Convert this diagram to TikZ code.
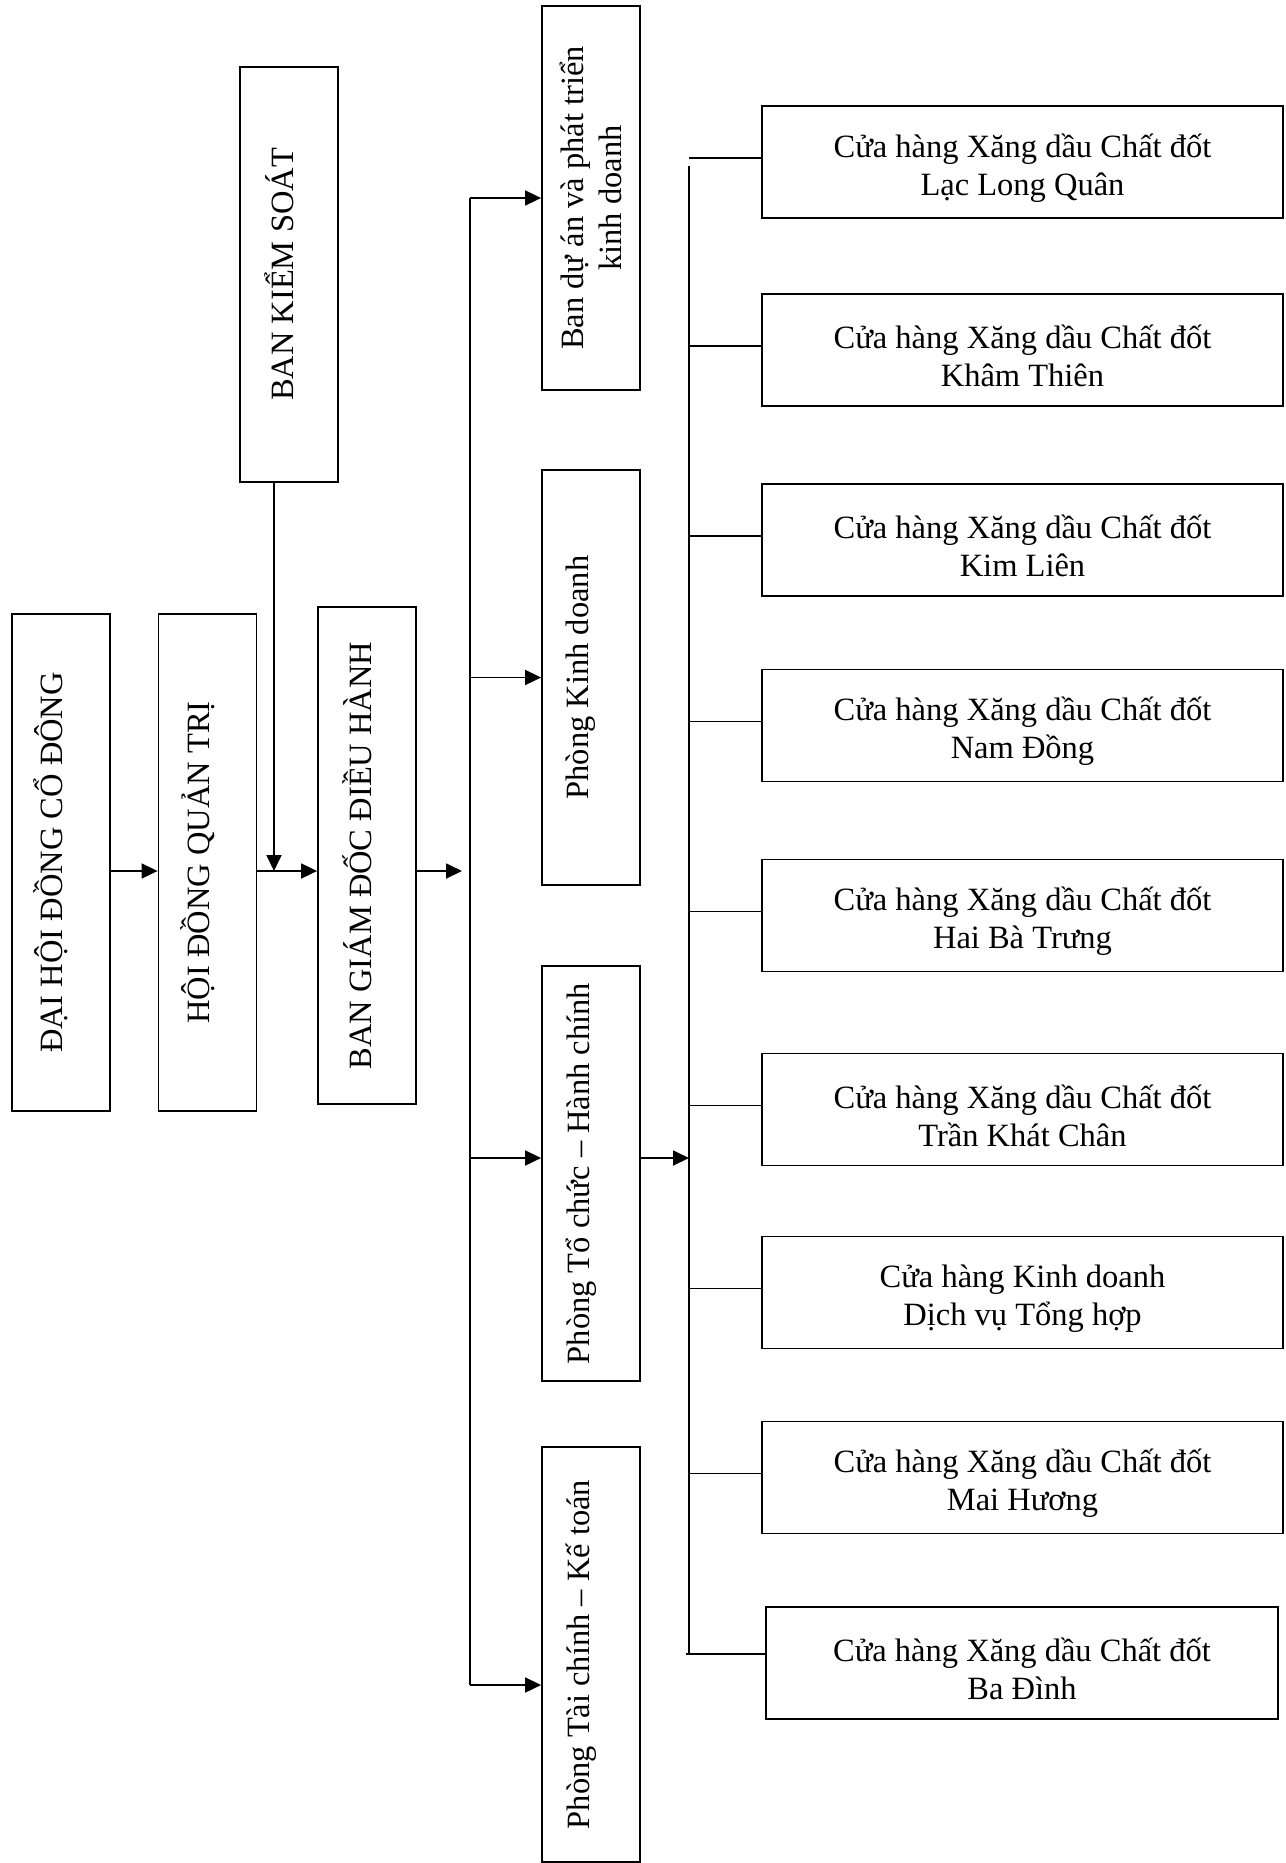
\documentclass[tikz,border=0pt]{standalone}
\usepackage{fontspec}
\setmainfont{Liberation Serif}
\usetikzlibrary{arrows.meta}
\begin{document}
\begin{tikzpicture}[x=1pt,y=-1pt,
  font=\fontsize{32.5}{38}\selectfont,
  box/.style={draw, line width=1.8pt, inner sep=0pt},
  vbox/.style={box, minimum width=98pt},
  store/.style={box, minimum width=521pt, minimum height=112pt},
  stext/.style={inner sep=0pt, align=center},
  vtext/.style={rotate=90, inner sep=0pt, align=center},
  conn/.style={line width=1.8pt},
  arr/.style={conn, -{Triangle[length=16pt,width=15pt]}}]
\useasboundingbox (0,0) rectangle (1285,1863);

% left column boxes
\node[vbox, minimum height=497pt] (dhcd) at (61,862.5) {};
\node[vbox, minimum height=497pt] (hdqt) at (207.5,862.5) {};
\node[vbox, minimum height=497pt] (bgd) at (367,855.5) {};
\node[vbox, minimum height=415pt] (bks) at (289,274.5) {};
\node[vtext] (dhcdt) at ([xshift=-10pt]dhcd.center) {ĐẠI HỘI ĐỒNG CỔ ĐÔNG};
\node[vtext] (hdqtt) at ([xshift=-10pt]hdqt.center) {HỘI ĐỒNG QUẢN TRỊ};
\node[vtext] (bgdt) at ([xshift=-10pt]bgd.center) {BAN GIÁM ĐỐC ĐIỀU HÀNH};
\node[vtext] (bkst) at ([xshift=-10pt]bks.center) {BAN KIỂM SOÁT};

% departments
\node[vbox, minimum height=384pt] (bda) at (591,198) {};
\node[vbox, minimum height=415pt] (pkd) at (591,677.5) {};
\node[vbox, minimum height=415pt] (tchc) at (591,1173.5) {};
\node[vbox, minimum height=415pt] (tckt) at (591,1654.5) {};
\node[vtext] (bdat) at (bda.center) {Ban dự án và phát triển\\kinh doanh};
\node[vtext] (pkdt) at ([xshift=-10pt]pkd.center) {Phòng Kinh doanh};
\node[vtext] (tchct) at ([xshift=-10pt]tchc.center) {Phòng Tổ chức -- Hành chính};
\node[vtext] (tcktt) at ([xshift=-10pt]tckt.center) {Phòng Tài chính -- Kế toán};

% stores
\node[store] (s1) at (1022.5,162) {};
\node[store] (s2) at (1022.5,350) {};
\node[store] (s3) at (1022.5,540) {};
\node[store] (s4) at (1022.5,725.5) {};
\node[store] (s5) at (1022.5,915.5) {};
\node[store] (s6) at (1022.5,1109.5) {};
\node[store] (s7) at (1022.5,1292.5) {};
\node[store] (s8) at (1022.5,1477.5) {};
\node[store, minimum width=512pt] (s9) at (1022,1663) {};
\node[stext] (s1t) at ([yshift=-6pt]s1.center) {Cửa hàng Xăng dầu Chất đốt\\Lạc Long Quân};
\node[stext] (s2t) at ([yshift=-6pt]s2.center) {Cửa hàng Xăng dầu Chất đốt\\Khâm Thiên};
\node[stext] (s3t) at ([yshift=-6pt]s3.center) {Cửa hàng Xăng dầu Chất đốt\\Kim Liên};
\node[stext] (s4t) at ([yshift=-6pt]s4.center) {Cửa hàng Xăng dầu Chất đốt\\Nam Đồng};
\node[stext] (s5t) at ([yshift=-6pt]s5.center) {Cửa hàng Xăng dầu Chất đốt\\Hai Bà Trưng};
\node[stext] (s6t) at ([yshift=-6pt]s6.center) {Cửa hàng Xăng dầu Chất đốt\\Trần Khát Chân};
\node[stext] (s7t) at ([yshift=-6pt]s7.center) {Cửa hàng Kinh doanh\\Dịch vụ Tổng hợp};
\node[stext] (s8t) at ([yshift=-6pt]s8.center) {Cửa hàng Xăng dầu Chất đốt\\Mai Hương};
\node[stext] (s9t) at ([yshift=-6pt]s9.center) {Cửa hàng Xăng dầu Chất đốt\\Ba Đình};

% main row
\coordinate (row) at (0,871);
\coordinate (bkx) at (274,871);
\coordinate (t1mid) at (462,871);
\draw[arr] (dhcd.east |- row) -- (hdqt.west |- row);
\draw[arr] (hdqt.east |- row) -- (bgd.west |- row);
\draw[arr] (bks.south -| bkx) -- (bkx);
\draw[arr] (bgd.east |- row) -- (t1mid);

% first trunk
\coordinate (t1top) at (470,198);
\coordinate (t1bot) at (470,1685);
\draw[conn] (t1top) -- (t1bot);
\draw[arr] (t1top) -- (bda.west |- t1top);
\draw[arr] (pkd.west -| t1top) -- (pkd.west);
\draw[arr] ([yshift=15.5pt]tchc.west -| t1top) -- ([yshift=15.5pt]tchc.west);
\draw[arr] (t1bot) -- (tckt.west |- t1bot);

% second trunk
\coordinate (t2top) at (689,166);
\coordinate (t2bot) at (689,1654);
\draw[conn] (t2top) -- (t2bot);
\draw[arr] ([yshift=15.5pt]tchc.east) -- ([yshift=15.5pt]tchc.east -| t2top);
\foreach \s in {s1,s2,s3,s4,s5,s6,s7,s8}{
  \draw[conn] ([yshift=4pt]\s.west -| t2top) -- ([yshift=4pt]\s.west);
}
\draw[conn] ([xshift=-3pt]t2bot) -- (s9.west |- t2bot);
\end{tikzpicture}
\end{document}
